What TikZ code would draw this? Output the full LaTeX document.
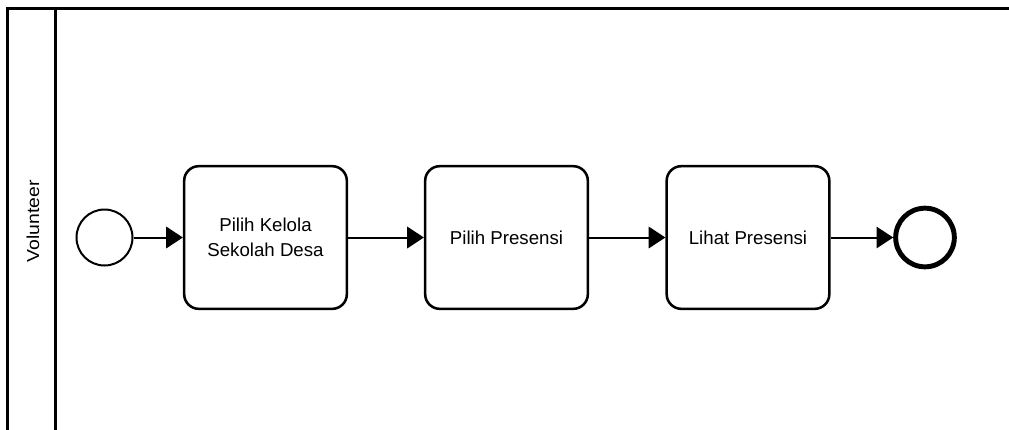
\documentclass[tikz,border=0pt]{standalone}
\usepackage{fontspec}
\setmainfont{Liberation Sans}
\usetikzlibrary{arrows.meta}
\begin{document}
\begin{tikzpicture}[x=0.75pt,y=-0.75pt,
  pool/.style={line width=2.3pt},
  task/.style={draw,line width=1.9pt,rounded corners=11pt,minimum width=122pt,minimum height=107pt,
    align=center,font=\fontsize{14}{18.5}\selectfont,inner sep=0pt},
  startev/.style={draw,circle,line width=1.5pt,minimum size=42pt,inner sep=0pt},
  endev/.style={draw,circle,line width=3.7pt,minimum size=44pt,inner sep=0pt},
  flow/.style={line width=1.5pt,-{Triangle[length=12.5pt,width=16pt]}}]
  \useasboundingbox (0,0) rectangle (1009,429);
  % pool and lane header
  \begin{scope}
    \clip (0,0) rectangle (1009,429);
    \draw[pool] (7.5,440) -- (7.5,8.5) -- (1020,8.5);
    \draw[pool] (55.5,8.5) -- (55.5,440);
  \end{scope}
  \node[rotate=90,font=\fontsize{13}{15}\selectfont,inner sep=0pt] (lane) at (33,221) {\scalebox{1.12}[1]{Volunteer}};
  % process
  \node[startev] (start) at (104.5,237.5) {};
  \node[task] (t1) at (265.5,237.5) {Pilih Kelola\\Sekolah Desa};
  \node[task] (t2) at (506.5,237.5) {Pilih Presensi};
  \node[task] (t3) at (748,237.5) {Lihat Presensi};
  \node[endev] (end) at (925,237.5) {};
  \draw[flow] (start) -- (t1);
  \draw[flow] (t1) -- (t2);
  \draw[flow] (t2) -- (t3);
  \draw[flow] (t3) -- (end);
\end{tikzpicture}
\end{document}
